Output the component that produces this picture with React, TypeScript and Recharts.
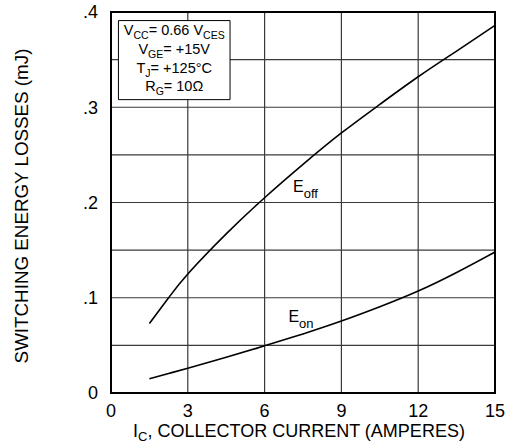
import React from 'react';
import { LineChart, Line, XAxis, YAxis, CartesianGrid, ReferenceArea, ReferenceDot } from 'recharts';

// collector current (A)
const ic = [1.5, 2.25, 3, 4.5, 6, 7.5, 9, 10.5, 12, 13.5, 15];
// switching energy (mJ)
const eoff = [0.073, 0.1, 0.125, 0.167, 0.205, 0.24, 0.273, 0.303, 0.332, 0.359, 0.386];
const eon = [0.015, 0.0205, 0.026, 0.0375, 0.0495, 0.062, 0.0755, 0.0905, 0.107, 0.1265, 0.148];

const xTicks = [0, 3, 6, 9, 12, 15];
const yTicks = [0, 0.05, 0.1, 0.15, 0.2, 0.25, 0.3, 0.35, 0.4];
const yTickLabels = ['0', '', '.1', '', '.2', '', '.3', '', '.4'];

// test conditions box, [text, isSubscript]
const conditions: [string, boolean][][] = [
  [['V', false], ['CC', true], ['= 0.66 V', false], ['CES', true]],
  [['V', false], ['GE', true], ['= +15V', false]],
  [['T', false], ['J', true], ['= +125°C', false]],
  [['R', false], ['G', true], ['= 10Ω', false]],
];

const data = ic.map((x, i) => ({ ic: x, eoff: eoff[i], eon: eon[i] }));

const FONT = '"Liberation Sans", Arial, sans-serif';

// render segments, dropping subscripts by `drop` px
function segs(parts: [string, boolean][], subSize: number, drop: number) {
  let prevSub = false;
  return parts.map(([t, sub], i) => {
    const dy = sub === prevSub ? 0 : sub ? drop : -drop;
    prevSub = sub;
    return (
      <tspan key={i} dy={dy || undefined} fontSize={sub ? subSize : undefined}>
        {t}
      </tspan>
    );
  });
}

const BoxText = (props: any) => {
  const vb = props.viewBox || { x: 0, y: 0, width: 0, height: 0 };
  const cx = vb.x + vb.width / 2;
  const top = vb.y;
  const offsets = [14, 33, 52, 70];
  return (
    <g>
      {conditions.map((line, i) => (
        <text key={i} x={cx} y={top + offsets[i]} textAnchor="middle" fontSize={14.5} fontFamily={FONT} fill="#000">
          {segs(line, 10.5, 4)}
        </text>
      ))}
    </g>
  );
};

const CurveLabel = ({ viewBox, main, sub }: any) => {
  if (!viewBox) return null;
  return (
    <text x={viewBox.x} y={viewBox.y} fontSize={16} fontFamily={FONT} fill="#000">
      {segs([[main, false], [sub, true]], 13, 6)}
    </text>
  );
};

const XTitle = ({ viewBox }: any) => {
  if (!viewBox) return null;
  return (
    <text x={viewBox.x + viewBox.width / 2 - 4} y={viewBox.y + 44} textAnchor="middle" fontSize={18} fontFamily={FONT} fill="#000">
      {segs([['I', false], ['C', true], [', COLLECTOR CURRENT (AMPERES)', false]], 13, 4)}
    </text>
  );
};

export default function App() {
  return (
    <div style={{ position: 'absolute', left: 0, top: 0, width: 516, height: 444, background: '#fff' }}>
      <LineChart width={516} height={444} data={data} margin={{ top: 12, right: 21, bottom: 0, left: 71 }}>
        <CartesianGrid stroke="#3a3a3a" strokeWidth={1.2} />
        <XAxis
          dataKey="ic"
          type="number"
          domain={[0, 15]}
          ticks={xTicks}
          axisLine={false}
          tickLine={false}
          tickSize={0}
          tickMargin={11}
          height={51}
          tick={{ fontSize: 18, fill: '#000', fontFamily: FONT }}
          label={<XTitle />}
        />
        <YAxis
          type="number"
          domain={[0, 0.4]}
          ticks={yTicks}
          tickFormatter={(_v: number, i: number) => yTickLabels[i]}
          axisLine={false}
          tickLine={false}
          tickSize={0}
          tickMargin={13}
          width={40}
          tick={{ fontSize: 18, fill: '#000', fontFamily: FONT }}
        />
        <ReferenceArea x1={0} x2={15} y1={0} y2={0.4} fill="none" stroke="#000" strokeWidth={2} fillOpacity={0} />
        <ReferenceArea x1={0.29} x2={4.65} y1={0.308} y2={0.391} fill="#fff" fillOpacity={1} stroke="#000" strokeWidth={1} label={<BoxText />} />
        <Line type="natural" dataKey="eoff" stroke="#000" strokeWidth={1.6} dot={false} isAnimationActive={false} />
        <Line type="natural" dataKey="eon" stroke="#000" strokeWidth={1.6} dot={false} isAnimationActive={false} />
        <ReferenceDot x={7.11} y={0.2108} r={0} fill="none" stroke="none" label={<CurveLabel main="E" sub="off" />} />
        <ReferenceDot x={6.93} y={0.075} r={0} fill="none" stroke="none" label={<CurveLabel main="E" sub="on" />} />
      </LineChart>
      <svg width={60} height={444} style={{ position: 'absolute', left: 0, top: 0 }}>
        <text
          x={0}
          y={0}
          transform="translate(21, 206) rotate(-90)"
          textAnchor="middle"
          dominantBaseline="central"
          fontSize={18.8}
          fontFamily={FONT}
          fill="#000"
        >
          SWITCHING ENERGY LOSSES (mJ)
        </text>
      </svg>
    </div>
  );
}
